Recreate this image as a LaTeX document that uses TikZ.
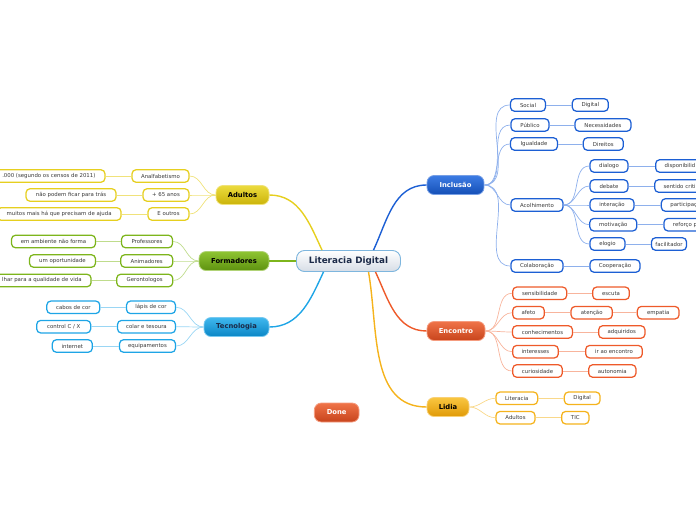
\documentclass[tikz,border=0pt]{standalone}
\usepackage{fontspec}
\setmainfont{DejaVu Sans}
\definecolor{yel}{HTML}{E6CF1F}\definecolor{yelL}{HTML}{F0E27A}\definecolor{yelT}{HTML}{ECDB3E}\definecolor{yelB}{HTML}{CBB40A}
\definecolor{grn}{HTML}{7DB51C}\definecolor{grnL}{HTML}{BFDC8C}\definecolor{grnT}{HTML}{8EC432}\definecolor{grnB}{HTML}{5E9210}
\definecolor{cya}{HTML}{1EA5E6}\definecolor{cyaL}{HTML}{9AD6F4}\definecolor{cyaT}{HTML}{40B8EE}\definecolor{cyaB}{HTML}{0A86C6}
\definecolor{blu}{HTML}{1C5FD4}\definecolor{bluL}{HTML}{8EB0EC}\definecolor{bluT}{HTML}{3C7CE4}\definecolor{bluB}{HTML}{154FB6}
\definecolor{ora}{HTML}{EE5A2A}\definecolor{oraL}{HTML}{F8B49C}\definecolor{oraT}{HTML}{EF7348}\definecolor{oraB}{HTML}{C8441C}
\definecolor{gld}{HTML}{F5B31C}\definecolor{gldL}{HTML}{F9D88A}\definecolor{gldT}{HTML}{F9C640}\definecolor{gldB}{HTML}{E09A08}
\definecolor{cenB}{HTML}{7EB6DE}\definecolor{cenT}{HTML}{1B2A48}\definecolor{cenF}{HTML}{D6DDE6}
\definecolor{leaftxt}{HTML}{3A3A3A}
\tikzset{
  leaf/.style={draw=#1, line width=1.25pt, rounded corners=4pt, fill=white, minimum height=12.5pt, inner sep=0pt, text=leaftxt, font=\fontsize{5.4}{6}\selectfont},
  mw/.style={minimum width=#1pt},
  mainnode/.style n args={3}{draw=#1!60!white, line width=0.8pt, top color=#2, bottom color=#3, rounded corners=7pt, minimum height=19pt, inner sep=0pt, font=\fontsize{6.8}{8}\selectfont\bfseries},
  branch/.style={draw=#1, line width=1.4pt},
  sub/.style={draw=#1, line width=0.7pt},
  link/.style={draw=#1, line width=0.9pt},
  cutl/.style={anchor=east, inner xsep=9.5pt, minimum width=0pt},
  cutr/.style={anchor=west, inner xsep=9pt, text width=50pt, align=left, minimum width=0pt},
}
\begin{document}
\begin{tikzpicture}[x=1pt,y=1pt]
\useasboundingbox (0,0) rectangle (696,-520);
\clip (0,0) rectangle (696,-520);
% central
\node[draw=cenB, line width=0.9pt, top color=white, bottom color=cenF, rounded corners=8pt, minimum width=104pt, minimum height=21pt, inner sep=0pt, text=cenT, font=\fontsize{8.8}{10}\selectfont\bfseries] (central) at (348.5,-261) {Literacia Digital};
% main nodes
\node[mainnode={yel}{yelT}{yelB}, mw=53] (adultos) at (242.5,-195) {Adultos};
\node[mainnode={grn}{grnT}{grnB}, mw=70] (formadores) at (234,-261) {Formadores};
\node[mainnode={cya}{cyaT}{cyaB}, mw=65, text=cenT] (tecnologia) at (236.5,-327) {Tecnologia};
\node[mainnode={blu}{bluT}{bluB}, mw=57, text=white] (inclusao) at (455.5,-185) {Inclusão};
\node[mainnode={ora}{oraT}{oraB}, mw=58, text=white] (encontro) at (456,-331) {Encontro};
\node[mainnode={gld}{gldT}{gldB}, mw=42] (lidia) at (448,-407) {Lidia};
\node[mainnode={ora}{oraT}{oraB}, mw=44.7, text=white] (done) at (336.7,-412.5) {Done};
% Adultos leaves
\node[leaf=yel, mw=57] (a1) at (160.5,-176) {Analfabetismo};
\node[leaf=yel, mw=46] (a2) at (166,-195) {+ 65 anos};
\node[leaf=yel, mw=41] (a3) at (168.5,-214) {E outros};
\node[leaf=yel, cutl] (a1g) at (105.6,-176) {.000 (segundo os censos de 2011)};
\node[leaf=yel, mw=90] (a2g) at (71,-195) {não podem ficar para trás};
\node[leaf=yel, cutl] (a3g) at (121.7,-214) {muitos mais há que precisam de ajuda};
% Formadores leaves
\node[leaf=grn, mw=51] (f1) at (147,-241.5) {Professores};
\node[leaf=grn, mw=52] (f2) at (146.7,-261) {Animadores};
\node[leaf=grn, mw=56] (f3) at (144.7,-280.5) {Gerontologos};
\node[leaf=grn, mw=84] (f1g) at (53.5,-241.5) {em ambiente não forma};
\node[leaf=grn, mw=66] (f2g) at (62.5,-261) {um oportunidade};
\node[leaf=grn, cutl] (f3g) at (91.7,-280.5) {lhar para a qualidade de vida};
% Tecnologia leaves
\node[leaf=cya, mw=49] (t1) at (151,-307.3) {lápis de cor};
\node[leaf=cya, mw=58] (t2) at (146.5,-326.7) {colar e tesoura};
\node[leaf=cya, mw=56] (t3) at (147.5,-346) {equipamentos};
\node[leaf=cya, mw=53] (t1g) at (73.3,-307.3) {cabos de cor};
\node[leaf=cya, mw=54] (t2g) at (63.7,-326.7) {control C / X};
\node[leaf=cya, mw=40] (t3g) at (72.3,-346) {internet};
% Inclusao leaves
\node[leaf=blu, mw=35] (i1) at (528,-105) {Social};
\node[leaf=blu, mw=38] (i2) at (530,-125) {Público};
\node[leaf=blu, mw=47] (i3) at (534,-144) {Igualdade};
\node[leaf=blu, mw=52] (i4) at (537,-205) {Acolhimento};
\node[leaf=blu, mw=52] (i5) at (537,-266) {Colaboração};
\node[leaf=blu, mw=36] (i1g) at (590.3,-105) {Digital};
\node[leaf=blu, mw=56] (i2g) at (603,-125) {Necessidades};
\node[leaf=blu, mw=40] (i3g) at (603.3,-144) {Direitos};
\node[leaf=blu, mw=50] (i5g) at (615,-266) {Cooperação};
\node[leaf=blu, mw=38] (c1) at (609,-166) {dialogo};
\node[leaf=blu, mw=38] (c2) at (609,-186) {debate};
\node[leaf=blu, mw=44] (c3) at (612,-205) {interação};
\node[leaf=blu, mw=47] (c4) at (613.3,-224.7) {motivação};
\node[leaf=blu, mw=35] (c5) at (607.5,-244) {elogio};
\node[leaf=blu, cutr] (c1g) at (655,-166) {disponibilid};
\node[leaf=blu, cutr] (c2g) at (654,-186) {sentido criti};
\node[leaf=blu, cutr] (c3g) at (660.7,-205) {participaç};
\node[leaf=blu, cutr] (c4g) at (663.3,-224.7) {reforço p};
\node[leaf=blu, mw=35] (c5g) at (669,-244) {facilitador};
% Encontro leaves
\node[leaf=ora, mw=54] (e1) at (539.7,-293.3) {sensibilidade};
\node[leaf=ora, mw=31.6] (e2) at (528.5,-312.7) {afeto};
\node[leaf=ora, mw=60] (e3) at (542.5,-332) {conhecimentos};
\node[leaf=ora, mw=45.6] (e4) at (535.5,-351.7) {interesses};
\node[leaf=ora, mw=49.6] (e5) at (537.5,-371) {curiosidade};
\node[leaf=ora, mw=36.7] (e1g) at (611,-293.3) {escuta};
\node[leaf=ora, mw=41.3] (e2g) at (591.7,-312.7) {atenção};
\node[leaf=ora, mw=41.7] (e2gg) at (658.2,-312.7) {empatia};
\node[leaf=ora, mw=46.3] (e3g) at (621.8,-332) {adquiridos};
\node[leaf=ora, mw=56.7] (e4g) at (614,-351.7) {ir ao encontro};
\node[leaf=ora, mw=47.3] (e5g) at (612.3,-371) {autonomia};
% Lidia leaves
\node[leaf=gld, mw=41.7] (l1) at (516.8,-398.3) {Literacia};
\node[leaf=gld, mw=39] (l2) at (515.5,-417.7) {Adultos};
\node[leaf=gld, mw=35.7] (l1g) at (582.2,-398.3) {Digital};
\node[leaf=gld, mw=27.3] (l2g) at (575.3,-417.7) {TIC};
% main branches
\draw[branch=yel] ([xshift=-26.5pt]central.north) to[out=115,in=0] (adultos.east);
\draw[branch=grn] (central.west) -- (formadores.east);
\draw[branch=cya] ([xshift=-25pt]central.south) to[out=245,in=0] (tecnologia.east);
\draw[branch=blu] ([xshift=25pt]central.north) to[out=65,in=180] (inclusao.west);
\draw[branch=ora] ([xshift=27pt]central.south) to[out=295,in=180] (encontro.west);
\draw[branch=gld] ([xshift=20pt]central.south) to[out=280,in=180] (lidia.west);
% sub branches
\foreach \n in {a1,a2,a3} \draw[sub=yelL] (adultos.west) to[out=180,in=0] (\n.east);
\foreach \n in {f1,f2,f3} \draw[sub=grnL] (formadores.west) to[out=180,in=0] (\n.east);
\foreach \n in {t1,t2,t3} \draw[sub=cyaL] (tecnologia.west) to[out=180,in=0] (\n.east);
\foreach \n in {i1,i2,i3,i4,i5} \draw[sub=bluL] (inclusao.east) to[out=0,in=180] (\n.west);
\foreach \n in {c1,c2,c3,c4,c5} \draw[sub=bluL] (i4.east) to[out=0,in=180] (\n.west);
\foreach \n in {e1,e2,e3,e4,e5} \draw[sub=oraL] (encontro.east) to[out=0,in=180] (\n.west);
\foreach \n in {l1,l2} \draw[sub=gldL] (lidia.east) to[out=0,in=180] (\n.west);
% leaf links
\draw[link=yelL] (a1.west) -- (a1g.east);
\draw[link=yelL] (a2.west) -- (a2g.east);
\draw[link=yelL] (a3.west) -- (a3g.east);
\draw[link=grnL] (f1.west) -- (f1g.east);
\draw[link=grnL] (f2.west) -- (f2g.east);
\draw[link=grnL] (f3.west) -- (f3g.east);
\draw[link=cyaL] (t1.west) -- (t1g.east);
\draw[link=cyaL] (t2.west) -- (t2g.east);
\draw[link=cyaL] (t3.west) -- (t3g.east);
\draw[link=bluL] (i1.east) -- (i1g.west);
\draw[link=bluL] (i2.east) -- (i2g.west);
\draw[link=bluL] (i3.east) -- (i3g.west);
\draw[link=bluL] (i5.east) -- (i5g.west);
\draw[link=bluL] (c1.east) -- (c1g.west);
\draw[link=bluL] (c2.east) -- (c2g.west);
\draw[link=bluL] (c3.east) -- (c3g.west);
\draw[link=bluL] (c4.east) -- (c4g.west);
\draw[link=bluL] (c5.east) -- (c5g.west);
\draw[link=oraL] (e1.east) -- (e1g.west);
\draw[link=oraL] (e2.east) -- (e2g.west);
\draw[link=oraL] (e2g.east) -- (e2gg.west);
\draw[link=oraL] (e3.east) -- (e3g.west);
\draw[link=oraL] (e4.east) -- (e4g.west);
\draw[link=oraL] (e5.east) -- (e5g.west);
\draw[link=gldL] (l1.east) -- (l1g.west);
\draw[link=gldL] (l2.east) -- (l2g.west);
\end{tikzpicture}
\end{document}
